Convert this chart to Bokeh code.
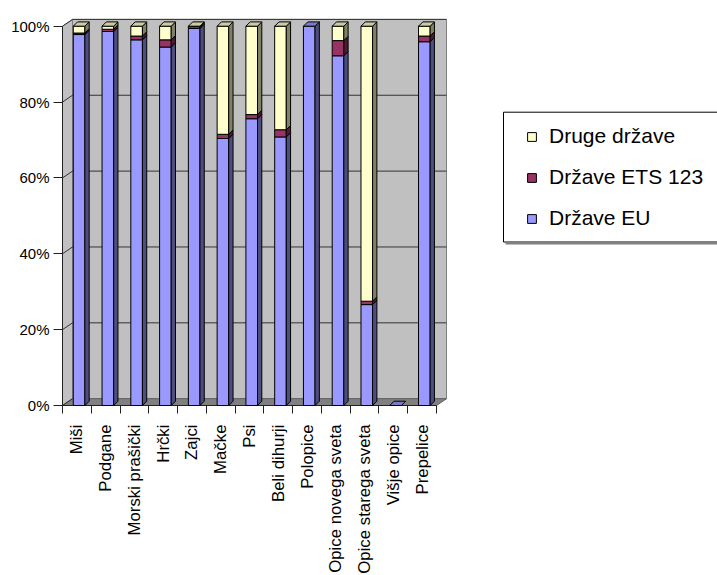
import math
import numpy as np
from bokeh.plotting import figure
from bokeh.models import Range1d, FixedTicker, Legend, LegendItem, PrintfTickFormatter, CustomJSTickFormatter
from bokeh.embed import file_html
from bokeh.resources import INLINE

# ---------------- data ----------------
categories = ["Miši", "Podgane", "Morski prašički", "Hrčki", "Zajci", "Mačke", "Psi",
              "Beli dihurji", "Polopice", "Opice novega sveta", "Opice starega sveta",
              "Višje opice", "Prepelice"]
drzave_eu = [97.8, 98.6, 96.4, 94.5, 99.4, 70.4, 75.6, 70.8, 100.0, 92.2, 26.6, 0.0, 95.9]
drzave_ets = [0.4, 0.6, 1.0, 1.9, 0.5, 1.1, 1.1, 1.9, 0.0, 4.0, 0.9, 0.0, 1.5]
druge_drzave = [1.8, 0.8, 2.6, 3.6, 0.1, 28.5, 23.3, 27.3, 0.0, 3.8, 72.5, 0.0, 2.6]
series_names = ["Države EU", "Države ETS 123", "Druge države"]
y_ticks = [0, 20, 40, 60, 80, 100]

# ---------------- styles / geometry ----------------
front_colors = ["#9999FF", "#993366", "#FFFFCC"]
side_colors = ["#4D4D80", "#4D1A33", "#808066"]
top_colors = ["#7A7ACC", "#7A2952", "#CCCCA3"]
FONT = "Liberation Sans"

W, H = 717, 575
PX_X = 28.77          # px per category
PX_Y = 3.793          # px per percent
ORIG_X, ORIG_Y = 62, 405   # canvas px of data (0, 0)
x_start = -ORIG_X / PX_X
x_end = (W - ORIG_X) / PX_X
y_end = ORIG_Y / PX_Y
y_start = -(H - ORIG_Y) / PX_Y

n = len(categories)
DX, DY = 10 / PX_X, 6.8 / PX_Y        # wall depth
hw = 5.8 / PX_X                       # bar half width
fx, fy = 2.2 / PX_X, 0.0              # bar front offset
bdx, bdy = 4.3 / PX_X, 4.3 / PX_Y     # bar depth

p = figure(width=W, height=H, x_range=Range1d(x_start, x_end), y_range=Range1d(y_start, y_end),
           output_backend="svg", toolbar_location=None, min_border=0)
p.outline_line_color = None
p.grid.visible = False
p.background_fill_color = "white"

# walls
top = max(y_ticks)
p.patch([0, DX, DX, 0], [0, DY, top + DY, top], fill_color="#C0C0C0", line_color="#808080")
p.patch([DX, n + DX, n + DX, DX], [DY, DY, top + DY, top + DY], fill_color="#C0C0C0", line_color="#808080")
p.patch([0, n, n + DX, DX], [0, 0, DY, DY], fill_color="#808080", line_color="#606060")
gy = [v for v in y_ticks if v > 0]
p.segment(x0=[DX] * len(gy), y0=[v + DY for v in gy], x1=[n + DX] * len(gy), y1=[v + DY for v in gy],
          line_color="#333333", line_width=1)
p.segment(x0=[0] * len(y_ticks), y0=y_ticks, x1=[DX] * len(y_ticks), y1=[v + DY for v in y_ticks],
          line_color="#333333", line_width=1)
# front axis lines
p.segment(x0=[0, 0], y0=[0, 0], x1=[0, n], y1=[top, 0], line_color="#202020", line_width=1)

# bars
vals = np.array([drzave_eu, drzave_ets, druge_drzave], dtype=float)
cum = np.cumsum(vals, axis=0)
bot = cum - vals
renderers = []
for s in range(3):
    idx = [i for i in range(n) if vals[s, i] > 0]
    left = np.array([i + 0.5 - hw + fx for i in idx])
    right = np.array([i + 0.5 + hw + fx for i in idx])
    b = bot[s, idx] + fy
    t = cum[s, idx] + fy
    r = p.quad(left=left, right=right, bottom=b, top=t, fill_color=front_colors[s],
               line_color="black", line_width=1)
    renderers.append(r)
    p.patches(xs=[[rr, rr + bdx, rr + bdx, rr] for rr in right],
              ys=[[bb, bb + bdy, tt + bdy, tt] for bb, tt in zip(b, t)],
              fill_color=side_colors[s], line_color="black", line_width=1)
    # top faces for topmost non-zero series
    tidx = []
    for i in range(n):
        nz = [k for k in range(3) if vals[k, i] > 0]
        topmost = nz[-1] if nz else 0
        if topmost == s:
            tidx.append(i)
    tl = [i + 0.5 - hw + fx for i in tidx]
    tr = [i + 0.5 + hw + fx for i in tidx]
    tt = [cum[s, i] + fy for i in tidx]
    p.patches(xs=[[l, r_, r_ + bdx, l + bdx] for l, r_ in zip(tl, tr)],
              ys=[[v, v, v + bdy, v + bdy] for v in tt],
              fill_color=top_colors[s], line_color="black", line_width=1)

# axes
p.yaxis.fixed_location = 0
p.yaxis.ticker = FixedTicker(ticks=y_ticks)
p.yaxis.formatter = PrintfTickFormatter(format="%d%%")
p.yaxis.axis_line_color = None
p.yaxis.major_tick_out = 9
p.yaxis.major_tick_in = 0
p.yaxis.minor_tick_line_color = None
p.yaxis.major_tick_line_color = "#202020"
p.yaxis.major_label_standoff = 4
p.yaxis.major_label_text_font = FONT
p.yaxis.major_label_text_font_size = "15px"
p.yaxis.major_label_text_color = "black"

p.xaxis.fixed_location = 0
p.xaxis.ticker = FixedTicker(ticks=[i + 0.5 for i in range(n)], minor_ticks=list(range(n + 1)))
p.xaxis.formatter = CustomJSTickFormatter(args=dict(names=categories),
                                          code="return names[Math.round(tick - 0.5)] || ''")
p.xaxis.axis_line_color = None
p.xaxis.major_tick_line_color = None
p.xaxis.major_tick_out = 0
p.xaxis.major_tick_in = 0
p.xaxis.minor_tick_out = 8
p.xaxis.minor_tick_in = 0
p.xaxis.minor_tick_line_color = "#202020"
p.xaxis.major_label_orientation = math.pi / 2
p.xaxis.major_label_standoff = 11
p.xaxis.major_label_text_font = FONT
p.xaxis.major_label_text_font_size = "16.8px"
p.xaxis.major_label_text_color = "black"

# legend box
bx0 = (503 - ORIG_X) / PX_X
by0 = (ORIG_Y - 241.5) / PX_Y
by1 = (ORIG_Y - 111.7) / PX_Y
p.quad(left=[bx0], right=[x_end + 1], bottom=[by0], top=[by1], fill_color="white",
       line_color="black", line_width=1)
p.segment(x0=[bx0 + 2 / PX_X], y0=[by0 - 1.2 / PX_Y], x1=[x_end + 1], y1=[by0 - 1.2 / PX_Y],
          line_color="#808080", line_width=2.5)

legend = Legend(items=[LegendItem(label=series_names[2], renderers=[renderers[2]]),
                       LegendItem(label=series_names[1], renderers=[renderers[1]]),
                       LegendItem(label=series_names[0], renderers=[renderers[0]])],
                location=(526, 345), orientation="vertical")
legend.glyph_width = 11
legend.glyph_height = 11
legend.spacing = 17
legend.padding = 0
legend.margin = 0
legend.label_standoff = 12
legend.label_text_font = FONT
legend.label_text_font_size = "21px"
legend.label_text_color = "black"
legend.border_line_color = None
legend.background_fill_alpha = 0
p.add_layout(legend)

open("out.html", "w").write(file_html(p, INLINE))
